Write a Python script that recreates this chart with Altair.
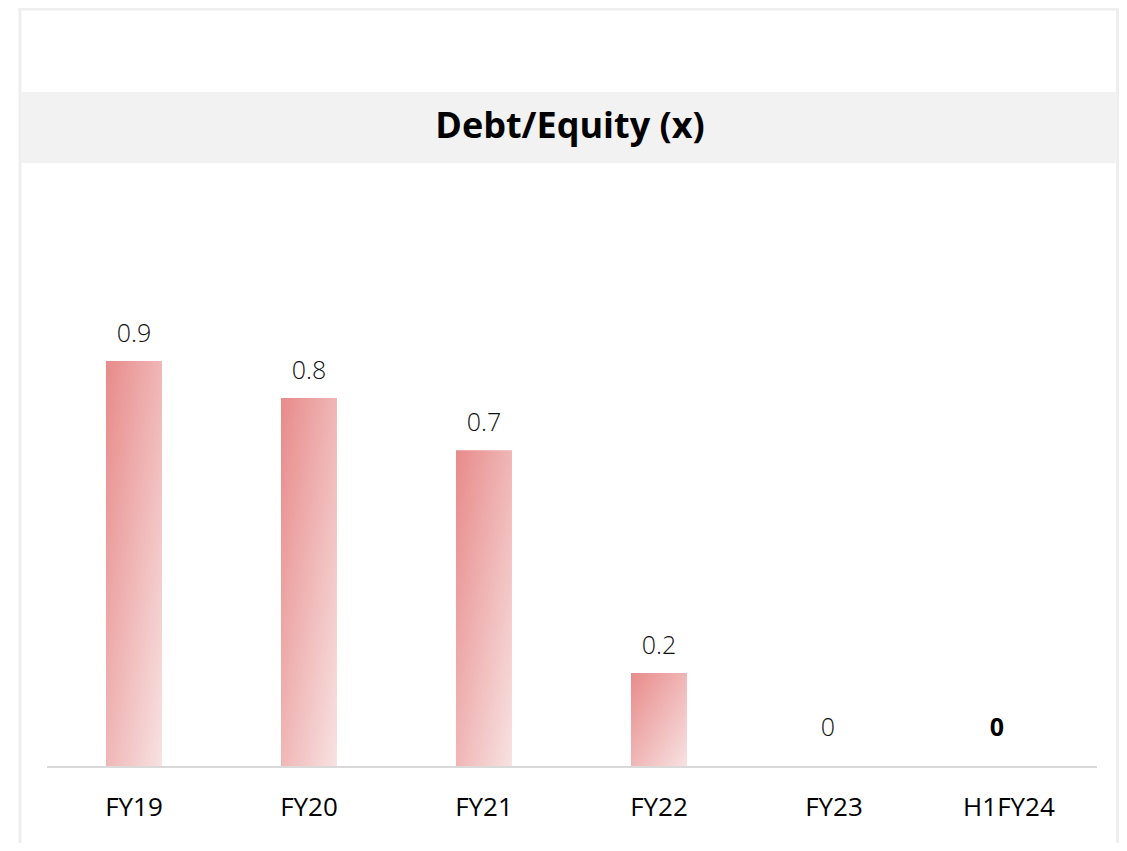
import altair as alt
import pandas as pd

categories = ["FY19", "FY20", "FY21", "FY22", "FY23", "H1FY24"]
values = [0.864, 0.785, 0.674, 0.2, 0.0, 0.0]
labels = ["0.9", "0.8", "0.7", "0.2", "0", "0"]
title_text = "Debt/Equity (x)"

df = pd.DataFrame({"cat": categories, "val": values, "lab": labels})

W, H = 1096, 604
FONT = "Open Sans"

xs = alt.X("cat:N", sort=categories, title=None,
           scale=alt.Scale(paddingInner=0.68, paddingOuter=0.4714, align=0.515),
           axis=alt.Axis(domain=False, ticks=False, tickSize=0, labelPadding=48,
                         labelBaseline="alphabetic", labelFont=FONT, labelFontSize=26,
                         labelColor="#000000", labelAngle=0))
ys = alt.Y("val:Q", title=None, axis=None,
           scale=alt.Scale(domain=[0, 1.2851], nice=False, zero=True))

one = alt.Data(values=[{"k": 0}])

frame_left = alt.Chart(one).mark_rule(color="#eeeeee", strokeWidth=3).encode(
    x=alt.value(-1), y=alt.value(-160), y2=alt.value(H + 80))
frame_top = alt.Chart(one).mark_rule(color="#eeeeee", strokeWidth=3).encode(
    x=alt.value(-2.5), x2=alt.value(W + 1), y=alt.value(-154))
frame_right = alt.Chart(one).mark_rule(color="#eeeeee", strokeWidth=3).encode(
    x=alt.value(W + 0.5), y=alt.value(-160), y2=alt.value(H + 80))

band = alt.Chart(one).mark_rect(color="#f2f2f2").encode(
    x=alt.value(0), x2=alt.value(W), y=alt.value(-71), y2=alt.value(0))

title = alt.Chart(one).mark_text(font=FONT, fontSize=36, fontWeight="bold",
                                 color="#000000", baseline="alphabetic", align="center").encode(
    x=alt.value(W / 2 + 1), y=alt.value(-25), text=alt.value(title_text))

grad = alt.Gradient(
    gradient="linear",
    stops=[alt.GradientStop(color="#e88a8a", offset=0),
           alt.GradientStop(color="#f8e2e2", offset=1)],
    x1=0, y1=0, x2=1, y2=1)

bars = alt.Chart(df).mark_bar(color=grad).encode(x=xs, y=ys)

lab_main = alt.Chart(df).transform_filter(alt.datum.val > 0).mark_text(
    font=FONT, fontSize=25, fontWeight=300, color="#111111",
    baseline="alphabetic", dy=-19).encode(x=alt.X("cat:N", sort=categories), y="val:Q", text="lab:N")

lab_zero = alt.Chart(df).transform_filter(alt.datum.cat == "FY23").mark_text(
    font=FONT, fontSize=25, fontWeight=300, color="#111111",
    baseline="alphabetic", dy=-31, dx=-6).encode(x=alt.X("cat:N", sort=categories), y="val:Q", text="lab:N")

lab_bold = alt.Chart(df).transform_filter(alt.datum.cat == "H1FY24").mark_text(
    font=FONT, fontSize=25, fontWeight="bold", color="#000000",
    baseline="alphabetic", dy=-31, dx=-12).encode(x=alt.X("cat:N", sort=categories), y="val:Q", text="lab:N")

axis_line = alt.Chart(one).mark_rule(color="#d9d9d9", strokeWidth=2).encode(
    x=alt.value(26), x2=alt.value(1076), y=alt.datum(0))

chart = alt.layer(
    frame_left, frame_top, frame_right, band, title, bars, lab_main, lab_zero, lab_bold, axis_line
).properties(
    width=W, height=H,
    padding={"left": 13, "top": 155, "right": 2, "bottom": 76},
    autosize=alt.AutoSizeParams(type="none"),
    background="#ffffff",
).configure_view(strokeWidth=0)

chart.save("out.html", embed_options={"renderer": "svg", "actions": False})
